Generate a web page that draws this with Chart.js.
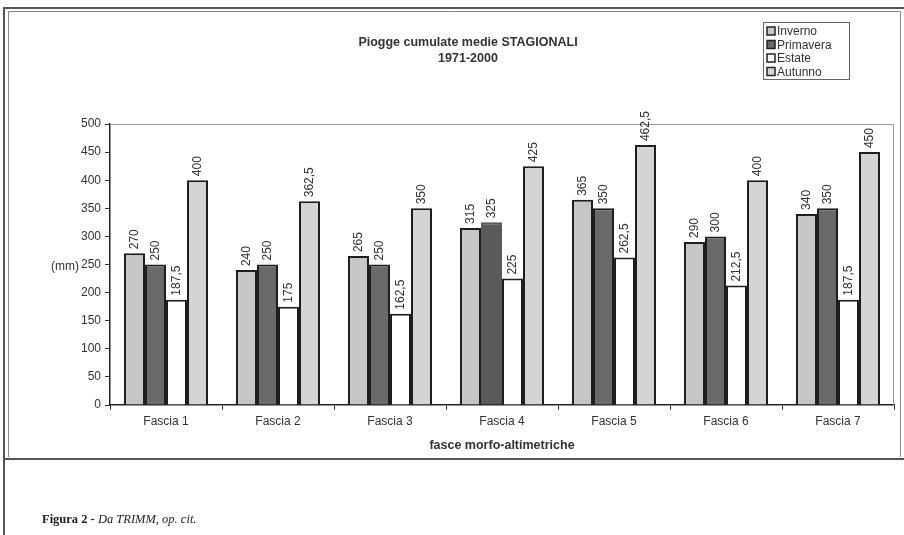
<!DOCTYPE html>
<html>
<head>
<meta charset="utf-8">
<script src="https://cdn.jsdelivr.net/npm/chart.js@4.4.1/dist/chart.umd.min.js"></script>
<style>
  body { margin: 0; background: #fff; }
  #wrap { width: 904px; height: 535px; position: relative; }
</style>
</head>
<body>
<div id="wrap"><canvas id="bar_chart" width="904" height="535"></canvas></div>
<script>
// dati
const categories = ["Fascia 1", "Fascia 2", "Fascia 3", "Fascia 4", "Fascia 5", "Fascia 6", "Fascia 7"];
const inverno   = [270, 240, 265, 315, 365, 290, 340];
const primavera = [250, 250, 250, 325, 350, 300, 350];
const estate    = [187.5, 175, 162.5, 225, 262.5, 212.5, 187.5];
const autunno   = [400, 362.5, 350, 425, 462.5, 400, 450];
const yTicks = [0, 50, 100, 150, 200, 250, 300, 350, 400, 450, 500];

const titleLines = ["Piogge cumulate medie STAGIONALI", "1971-2000"];
const xTitle = "fasce morfo-altimetriche";
const yTitle = "(mm)";

const FONT = '"Liberation Sans", Arial, sans-serif';

function fmt(v) {
    return String(v).replace('.', ',');
}

const decorPlugin = {
    id: 'decor',
    afterDraw(chart) {
        const ctx = chart.ctx;
        const area = chart.chartArea;
        ctx.save();

        // cornice del grafico
        ctx.strokeStyle = '#555';
        ctx.lineWidth = 2;
        ctx.beginPath();
        ctx.moveTo(4, 535); ctx.lineTo(4, 8); ctx.lineTo(904, 8);
        ctx.moveTo(4, 459); ctx.lineTo(904, 459);
        ctx.stroke();
        ctx.strokeStyle = '#888';
        ctx.lineWidth = 1;
        ctx.beginPath();
        ctx.moveTo(8.5, 457); ctx.lineTo(8.5, 11.5); ctx.lineTo(900.5, 11.5); ctx.lineTo(900.5, 457);
        ctx.stroke();

        // bordo area del grafico
        ctx.strokeStyle = '#999';
        ctx.beginPath();
        ctx.moveTo(area.left, area.top + 0.5);
        ctx.lineTo(area.right - 0.5, area.top + 0.5);
        ctx.lineTo(area.right - 0.5, area.bottom);
        ctx.stroke();

        // titolo
        ctx.fillStyle = '#333';
        ctx.font = 'bold 12.5px ' + FONT;
        ctx.textAlign = 'center';
        ctx.textBaseline = 'middle';
        ctx.fillText(titleLines[0], 468, 43);
        ctx.fillText(titleLines[1], 468, 59);

        // titoli assi
        ctx.font = '12px ' + FONT;
        ctx.fillText(yTitle, 65, 267);
        ctx.font = 'bold 12.5px ' + FONT;
        ctx.fillText(xTitle, (area.left + area.right) / 2, 446);

        // etichette dei valori
        ctx.font = '12px ' + FONT;
        ctx.fillStyle = '#333';
        ctx.textAlign = 'left';
        chart.data.datasets.forEach((ds, i) => {
            const meta = chart.getDatasetMeta(i);
            meta.data.forEach((el, j) => {
                ctx.save();
                ctx.translate(el.x, el.y - 4);
                ctx.rotate(-Math.PI / 2);
                ctx.fillText(fmt(ds.data[j]), 0, 0);
                ctx.restore();
            });
        });

        // legenda
        const lx = 763, ly = 22, lw = 86, lh = 57;
        ctx.fillStyle = '#fff';
        ctx.fillRect(lx, ly, lw, lh);
        ctx.strokeStyle = '#666';
        ctx.lineWidth = 1;
        ctx.strokeRect(lx + 0.5, ly + 0.5, lw, lh);
        ctx.font = '12px ' + FONT;
        chart.data.datasets.forEach((ds, i) => {
            const y = ly + 9 + i * 13.5;
            ctx.fillStyle = ds.legendColor || ds.backgroundColor;
            ctx.fillRect(lx + 4, y - 4, 8, 8);
            ctx.strokeStyle = '#222';
            ctx.lineWidth = 1.5;
            ctx.strokeRect(lx + 4, y - 4, 8, 8);
            ctx.fillStyle = '#333';
            ctx.textAlign = 'left';
            ctx.textBaseline = 'middle';
            ctx.fillText(ds.label, lx + 14, y + 1);
        });

        // didascalia
        ctx.fillStyle = '#222';
        ctx.textAlign = 'left';
        ctx.font = 'bold 12.5px "Liberation Serif", serif';
        const cap1 = "Figura 2 - ";
        ctx.fillText(cap1, 42, 520);
        const w1 = ctx.measureText(cap1).width;
        ctx.font = 'italic 12.5px "Liberation Serif", serif';
        ctx.fillText("Da TRIMM, op. cit.", 42 + w1, 520);

        ctx.restore();
    }
};

const config = {
    type: 'bar',
    data: {
        labels: categories,
        datasets: [{
            label: "Inverno",
            data: inverno,
            backgroundColor: '#c6c6c6',
            borderColor: '#1e1e1e',
            borderWidth: 2
        }, {
            label: "Primavera",
            data: primavera,
            legendColor: '#6a6a6a',
            backgroundColor: ['#6a6a6a', '#6a6a6a', '#6a6a6a', '#5a5a5a', '#6a6a6a', '#6a6a6a', '#6a6a6a'],
            borderColor: ['#1e1e1e', '#1e1e1e', '#1e1e1e', '#5a5a5a', '#1e1e1e', '#1e1e1e', '#1e1e1e'],
            borderWidth: 2
        }, {
            label: "Estate",
            data: estate,
            backgroundColor: '#ffffff',
            borderColor: '#1e1e1e',
            borderWidth: 2
        }, {
            label: "Autunno",
            data: autunno,
            backgroundColor: '#d4d4d4',
            borderColor: '#1e1e1e',
            borderWidth: 2
        }]
    },
    options: {
        responsive: false,
        animation: false,
        devicePixelRatio: 1,
        layout: { padding: { left: 0, top: 124, right: 10, bottom: 0 } },
        datasets: { bar: { categoryPercentage: 0.75, barPercentage: 1 } },
        plugins: {
            legend: { display: false },
            title: { display: false },
            tooltip: { enabled: false }
        },
        scales: {
            x: {
                grid: { offset: true, drawOnChartArea: false, tickLength: 5, color: '#333' },
                border: { color: '#222', width: 1.5 },
                ticks: { color: '#333', font: { family: FONT, size: 12 }, padding: 4, maxRotation: 0 },
                afterFit(scale) { scale.height = 130; }
            },
            y: {
                min: 0,
                max: 500,
                afterBuildTicks(scale) { scale.ticks = yTicks.map(v => ({ value: v })); },
                grid: { drawOnChartArea: false, tickLength: 5, color: '#333' },
                border: { color: '#222', width: 1.5 },
                ticks: { color: '#333', font: { family: FONT, size: 12 }, padding: 4 },
                afterFit(scale) { scale.width = 110; }
            }
        }
    },
    plugins: [decorPlugin]
};

new Chart(document.getElementById("bar_chart").getContext("2d"), config);
</script>
</body>
</html>
